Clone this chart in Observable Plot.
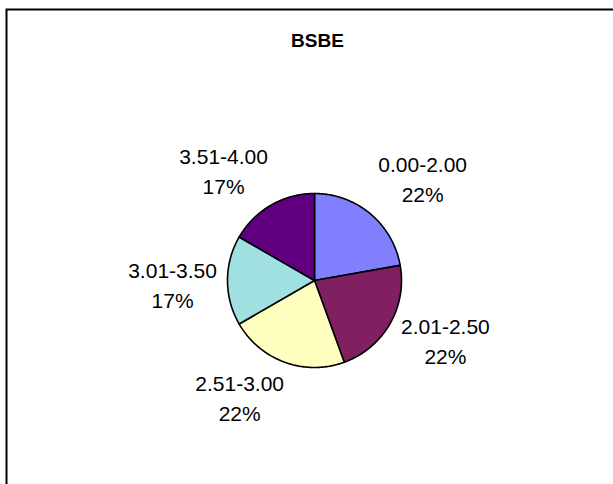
<!DOCTYPE html>
<html><head><meta charset="utf-8">
<script src="https://cdn.jsdelivr.net/npm/d3@7"></script>
<script src="https://cdn.jsdelivr.net/npm/@observablehq/plot@0.6"></script>
<style>html,body{margin:0;padding:0;background:#fff;overflow:hidden}</style>
</head><body><div id="chart"></div>
<script>
const title = "BSBE";
const categories = ["0.00-2.00", "2.01-2.50", "2.51-3.00", "3.01-3.50", "3.51-4.00"];
const counts = [4, 4, 4, 3, 3];
const colors = ["#8080FF", "#802060", "#FFFFC0", "#A0E0E0", "#600080"];

const W = 613, H = 484, R = 87, CX = 314, CY = 280;
const FONT = '"Liberation Sans", Arial, Helvetica, sans-serif';
const LABEL_SIZE = 21;
const total = d3.sum(counts);

let acc = 0;
const slices = categories.map((c, i) => {
  const a0 = acc / total * 2 * Math.PI;
  acc += counts[i];
  const a1 = acc / total * 2 * Math.PI;
  return {c, a0, a1, mid: (a0 + a1) / 2, pct: Math.round(counts[i] / total * 100) + "%"};
});

// slice outlines (center -> arc -> center), angles from 12 o'clock clockwise
const pts = [];
for (const s of slices) {
  pts.push({c: s.c, x: 0, y: 0});
  const n = Math.max(2, Math.ceil((s.a1 - s.a0) / (Math.PI / 180)));
  for (let k = 0; k <= n; k++) {
    const a = s.a0 + (s.a1 - s.a0) * k / n;
    pts.push({c: s.c, x: R * Math.sin(a), y: -R * Math.cos(a)});
  }
  pts.push({c: s.c, x: 0, y: 0});
}

// label placement: box attached to a point outside the pie along the mid-angle
const ctx = document.createElement("canvas").getContext("2d");
ctx.font = `${LABEL_SIZE}px ${FONT}`;
const RL = 102, BH = 45, CAP = 15;
const clamp = (v, lo = 0, hi = 1) => Math.max(lo, Math.min(hi, v));
const labels = slices.map(s => {
  const w = Math.max(ctx.measureText(s.c).width, ctx.measureText(s.pct).width);
  const sn = Math.sin(s.mid), cs = Math.cos(s.mid);
  const ax = RL * sn, ay = -RL * cs;
  const fx = clamp(0.5 - 2 * sn, 0.02, 0.95);
  const fy = clamp(0.5 + 0.6 * cs + 0.1 * sn);
  const left = ax - fx * w, top = ay - fy * BH;
  return {c: s.c, pct: s.pct, cx: left + w / 2, b1: top + CAP, b2: top + BH};
});

const chart = Plot.plot({
  width: W, height: H,
  marginLeft: 6, marginTop: 9, marginRight: -15, marginBottom: -20,
  x: {domain: [-R, R], range: [CX - R, CX + R], axis: null},
  y: {domain: [-R, R], range: [CY - R, CY + R], axis: null},
  color: {domain: categories, range: colors},
  style: {fontFamily: FONT, background: "#fff", color: "#000"},
  marks: [
    Plot.frame({stroke: "#000", strokeWidth: 2}),
    Plot.line(pts, {x: "x", y: "y", z: "c", fill: "c", stroke: "#000", strokeWidth: 1.6, strokeLinejoin: "round", curve: "linear"}),
    Plot.text([title], {text: d => d, frameAnchor: "top", dy: 37, lineAnchor: "bottom", fontWeight: "bold", fontSize: 19, fill: "#000"}),
    Plot.text(labels, {x: "cx", y: "b1", text: "c", lineAnchor: "bottom", textAnchor: "middle", fontSize: LABEL_SIZE, fill: "#000"}),
    Plot.text(labels, {x: "cx", y: "b2", text: "pct", lineAnchor: "bottom", textAnchor: "middle", fontSize: LABEL_SIZE, fill: "#000"})
  ]
});
document.getElementById("chart").appendChild(chart);
</script>
</body></html>
